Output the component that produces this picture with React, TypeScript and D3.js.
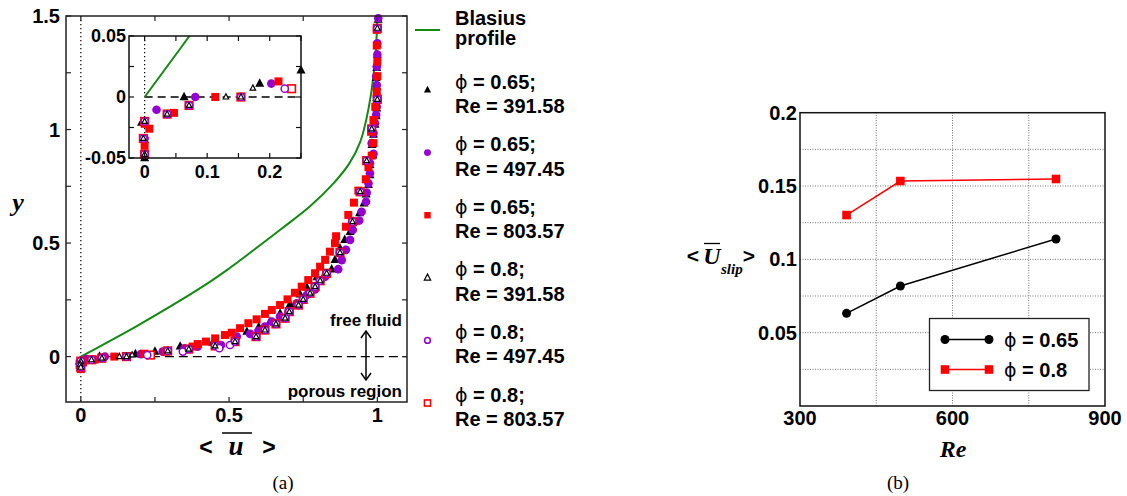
import React from 'react';
import * as d3 from 'd3';

type P = [number, number];

// ---------- Panel (a) data ----------
const blasius: P[] = [
  [0, 0], [0.1, 0.07], [0.19, 0.135], [0.413, 0.31], [0.5, 0.388], [0.582, 0.468],
  [0.68, 0.566], [0.773, 0.662], [0.852, 0.763], [0.905, 0.85], [0.942, 0.945],
  [0.962, 1.04], [0.978, 1.15], [0.991, 1.29], [0.998, 1.42], [1.0, 1.5],
];

// phi = 0.65, Re = 391.58 (filled triangles)
const s065Re391: P[] = [
  [-0.005, -0.021], [0, -0.035], [0, -0.05], [0.063, 0], [0.184, 0.011], [0.25, 0.022],
  [0.335, 0.045], [0.445, 0.062], [0.52, 0.085], [0.56, 0.11], [0.6, 0.13], [0.638, 0.154],
  [0.672, 0.19], [0.706, 0.232], [0.739, 0.275], [0.762, 0.305], [0.796, 0.35], [0.846, 0.385],
  [0.857, 0.426], [0.874, 0.477], [0.89, 0.515], [0.908, 0.55], [0.92, 0.595], [0.94, 0.632],
  [0.955, 0.675], [0.962, 0.715], [0.97, 0.757], [0.975, 0.8], [0.975, 0.845], [0.985, 0.887],
  [0.982, 0.933], [0.987, 0.978], [0.992, 1.022], [0.996, 1.06], [0.998, 1.094], [0.998, 1.14],
  [0.998, 1.19], [0.996, 1.228], [0.998, 1.272], [1.0, 1.33], [1.0, 1.375], [1.003, 1.485],
];

// phi = 0.65, Re = 497.45 (filled circles)
const s065Re497: P[] = [
  [0, -0.034], [0.019, -0.0104], [0.081, 0], [0.2025, 0.011], [0.276, 0.022], [0.349, 0.036],
  [0.394, 0.044], [0.473, 0.051], [0.526, 0.088], [0.571, 0.1], [0.599, 0.114], [0.621, 0.132],
  [0.644, 0.154], [0.672, 0.176], [0.7, 0.198], [0.728, 0.235], [0.762, 0.271], [0.79, 0.296],
  [0.824, 0.352], [0.868, 0.385], [0.88, 0.425], [0.894, 0.47], [0.908, 0.514], [0.917, 0.558],
  [0.939, 0.599], [0.947, 0.638], [0.962, 0.682], [0.964, 0.722], [0.97, 0.763], [0.975, 0.807],
  [0.975, 0.852], [0.987, 0.893], [0.981, 0.94], [0.987, 0.984], [0.992, 1.028], [0.996, 1.065],
  [0.998, 1.1], [0.998, 1.145], [0.998, 1.196], [0.996, 1.233], [0.998, 1.277], [1.0, 1.33],
  [1.0, 1.38], [1.003, 1.49],
];

// phi = 0.65, Re = 803.57 (filled squares)
const s065Re803: P[] = [
  [0, -0.022], [0.0075, -0.026], [0, -0.04], [0, -0.055], [0.047, -0.013], [0.113, 0],
  [0.214, 0.0128], [0.287, 0.022], [0.377, 0.044], [0.394, 0.055], [0.422, 0.066], [0.453, 0.08],
  [0.486, 0.095], [0.509, 0.105], [0.537, 0.125], [0.565, 0.147], [0.593, 0.164], [0.621, 0.188],
  [0.644, 0.205], [0.672, 0.227], [0.697, 0.252], [0.722, 0.281], [0.745, 0.308], [0.767, 0.337],
  [0.79, 0.367], [0.807, 0.396], [0.824, 0.426], [0.84, 0.462], [0.857, 0.499], [0.861, 0.53],
  [0.894, 0.572], [0.902, 0.624], [0.921, 0.678], [0.936, 0.731], [0.961, 0.781], [0.97, 0.834],
  [0.981, 0.885], [0.987, 0.94], [0.979, 0.99], [0.987, 1.042], [0.993, 1.1], [0.998, 1.167],
  [1.0, 1.235], [1.0, 1.299], [0.998, 1.37], [0.998, 1.439],
];

// phi = 0.8, Re = 391.58 (open triangles)
const s08Re391: P[] = [
  [0, -0.02], [-0.002, -0.034], [0, -0.047], [0.036, -0.014], [0.071, -0.0069], [0.13, 0],
  [0.154, 0], [0.173, 0.0073], [0.293, 0.025], [0.364, 0.033], [0.453, 0.047], [0.52, 0.066],
  [0.591, 0.088], [0.621, 0.117], [0.658, 0.144], [0.689, 0.169], [0.703, 0.198], [0.734, 0.227],
  [0.75, 0.252], [0.773, 0.279], [0.79, 0.308], [0.807, 0.334], [0.829, 0.367], [0.874, 0.458],
  [0.916, 0.594], [0.942, 0.726], [0.964, 0.863], [0.981, 1.003], [1.0, 1.133], [1.0, 1.446],
];

// phi = 0.8, Re = 497.45 (open circles)
const s08Re497: P[] = [
  [0, -0.02], [-0.002, -0.034], [0, -0.047], [0.036, -0.014], [0.071, -0.0069], [0.154, 0],
  [0.224, 0.0068], [0.293, 0.025], [0.344, 0.022], [0.364, 0.033], [0.453, 0.047], [0.467, 0.037],
  [0.503, 0.051], [0.52, 0.066], [0.591, 0.088], [0.621, 0.117], [0.658, 0.144], [0.689, 0.169],
  [0.703, 0.198], [0.734, 0.227], [0.75, 0.252], [0.773, 0.279], [0.79, 0.308], [0.807, 0.334],
  [0.829, 0.367], [0.874, 0.458], [0.916, 0.594], [0.942, 0.726], [0.964, 0.863], [0.981, 1.003],
  [1.0, 1.133], [1.0, 1.446],
];

// phi = 0.8, Re = 803.57 (open squares)
const s08Re803: P[] = [
  [0, -0.02], [-0.002, -0.034], [0, -0.047], [0.036, -0.014], [0.071, -0.0069], [0.154, 0],
  [0.235, 0.0068], [0.293, 0.025], [0.364, 0.033], [0.453, 0.047], [0.52, 0.066], [0.591, 0.088],
  [0.621, 0.117], [0.658, 0.144], [0.689, 0.169], [0.703, 0.198], [0.734, 0.227], [0.75, 0.252],
  [0.773, 0.279], [0.79, 0.308], [0.807, 0.334], [0.829, 0.367], [0.874, 0.458], [0.916, 0.594],
  [0.942, 0.726], [0.964, 0.863], [0.981, 1.003], [1.0, 1.133], [1.0, 1.446],
];

const mainXTickLabels = [0, 0.5, 1];
const mainXTicksAll = [0, 0.25, 0.5, 0.75, 1];
const mainYTickLabels = [0, 0.5, 1, 1.5];
const mainYTicksAll = [0, 0.25, 0.5, 0.75, 1, 1.25, 1.5];
const insetXTickLabels = [0, 0.1, 0.2];
const insetXTicksAll = [0, 0.05, 0.1, 0.15, 0.2, 0.25];
const insetYTickLabels = [-0.05, 0, 0.05];
const insetYTicksAll = [-0.05, -0.025, 0, 0.025, 0.05];

const legendA = [
  { phi: '0.65', re: '391.58', kind: 'triF' },
  { phi: '0.65', re: '497.45', kind: 'cirF' },
  { phi: '0.65', re: '803.57', kind: 'sqF' },
  { phi: '0.8', re: '391.58', kind: 'triO' },
  { phi: '0.8', re: '497.45', kind: 'cirO' },
  { phi: '0.8', re: '803.57', kind: 'sqO' },
];

// ---------- Panel (b) data ----------
const reValues = [391.58, 497.45, 803.57];
const slipPhi065 = [0.0632, 0.0818, 0.1139];
const slipPhi08 = [0.1302, 0.1534, 0.1548];
const bXTickLabels = [300, 600, 900];
const bXGrid = [450, 600, 750];
const bYTickLabels = [0.05, 0.1, 0.15, 0.2];
const bYGrid = [0.025, 0.05, 0.075, 0.1, 0.125, 0.15, 0.175];

const PURPLE = '#9400d3';
const RED = '#ff0000';
const GREEN = '#138a13';
const SANS = '"Liberation Sans", Arial, Helvetica, sans-serif';
const SERIF = '"Liberation Serif", "Times New Roman", serif';

const triPath = (cx: number, cy: number, s: number) =>
  `M${cx},${cy - s * 0.58}L${cx + s / 2},${cy + s * 0.36}L${cx - s / 2},${cy + s * 0.36}Z`;

function Marker({ kind, x, y, scale = 1 }: { kind: string; x: number; y: number; scale?: number }) {
  switch (kind) {
    case 'triF':
      return <path d={triPath(x, y, 9 * scale)} fill="#000" />;
    case 'cirF':
      return <circle cx={x} cy={y} r={4.3 * scale} fill={PURPLE} />;
    case 'sqF':
      return <rect x={x - 4 * scale} y={y - 4 * scale} width={8 * scale} height={8 * scale} fill={RED} />;
    case 'triO':
      return <path d={triPath(x, y, 5.5 * scale)} fill="#fff" stroke="#000" strokeWidth={1.2} />;
    case 'cirO':
      return <circle cx={x} cy={y} r={3.6 * scale} fill="#fff" stroke={PURPLE} strokeWidth={1.5} />;
    case 'sqO':
      return (
        <rect x={x - 3.8 * scale} y={y - 3.8 * scale} width={7.6 * scale} height={7.6 * scale}
          fill="#fff" stroke={RED} strokeWidth={1.6} />
      );
    default:
      return null;
  }
}

const seriesList: { data: P[]; kind: string }[] = [
  { data: s065Re391, kind: 'triF' },
  { data: s065Re497, kind: 'cirF' },
  { data: s065Re803, kind: 'sqF' },
  { data: s08Re803, kind: 'sqO' },
  { data: s08Re497, kind: 'cirO' },
  { data: s08Re391, kind: 'triO' },
];

export default function App() {
  const xM = d3.scaleLinear().domain([-0.05, 1.1]).range([66, 407]);
  const yM = d3.scaleLinear().domain([-0.2, 1.5]).range([402, 16]);
  const xI = d3.scaleLinear().domain([-0.025, 0.25]).range([129, 301]);
  const yI = d3.scaleLinear().domain([-0.05, 0.05]).range([158, 36]);
  const xB = d3.scaleLinear().domain([300, 900]).range([800, 1105]);
  const yB = d3.scaleLinear().domain([0, 0.2]).range([406, 112.7]);

  const lineM = d3.line<P>().x((d) => xM(d[0])).y((d) => yM(d[1])).curve(d3.curveCatmullRom.alpha(0.5));
  const lineI = d3.line<P>().x((d) => xI(d[0])).y((d) => yI(d[1])).curve(d3.curveCatmullRom.alpha(0.5));

  const lineB = d3.line<[number, number]>().x((d) => xB(d[0])).y((d) => yB(d[1]));
  const b065: [number, number][] = reValues.map((r, i) => [r, slipPhi065[i]]);
  const b08: [number, number][] = reValues.map((r, i) => [r, slipPhi08[i]]);

  const inInset = (d: P) => d[0] >= -0.03 && d[0] <= 0.252 && d[1] >= -0.052 && d[1] <= 0.052;

  const [mx0, mx1] = xM.range();
  const [my0, my1] = yM.range();
  const [ix0, ix1] = xI.range();
  const [iy0, iy1] = yI.range();

  return (
    <svg width={1127} height={496} style={{ position: 'absolute', left: 0, top: 0, background: '#fff' }}
      fontFamily={SANS}>
      <defs>
        <clipPath id="clipMain">
          <rect x={mx0} y={my1} width={mx1 - mx0} height={my0 - my1} />
        </clipPath>
        <clipPath id="clipInset">
          <rect x={ix0} y={iy1} width={ix1 - ix0} height={iy0 - iy1} />
        </clipPath>
      </defs>
      <rect x={0} y={0} width={1127} height={496} fill="#fff" />

      {/* ===== Panel (a) main ===== */}
      <line x1={xM(0)} x2={xM(0)} y1={my1} y2={my0} stroke="#000" strokeWidth={1.2} strokeDasharray="1.2,2.8" />
      <line x1={xM(0)} x2={mx1} y1={yM(0)} y2={yM(0)} stroke="#000" strokeWidth={1.3} strokeDasharray="9,5" />
      <path d={lineM(blasius) || ''} fill="none" stroke={GREEN} strokeWidth={2} clipPath="url(#clipMain)" />
      {seriesList.map((s, si) => (
        <g key={si}>
          {s.data.map((d, i) => (
            <Marker key={i} kind={s.kind} x={xM(d[0])} y={yM(d[1])} />
          ))}
        </g>
      ))}

      <rect x={mx0} y={my1} width={mx1 - mx0} height={my0 - my1} fill="none" stroke="#222" strokeWidth={1.5} />
      {mainXTicksAll.map((t) => (
        <g key={'mxt' + t}>
          <line x1={xM(t)} x2={xM(t)} y1={my0} y2={my0 - 5} stroke="#222" strokeWidth={1.2} />
          <line x1={xM(t)} x2={xM(t)} y1={my1} y2={my1 + 5} stroke="#222" strokeWidth={1.2} />
        </g>
      ))}
      {mainYTicksAll.map((t) => (
        <g key={'myt' + t}>
          <line x1={mx0} x2={mx0 + 5} y1={yM(t)} y2={yM(t)} stroke="#222" strokeWidth={1.2} />
          <line x1={mx1} x2={mx1 - 5} y1={yM(t)} y2={yM(t)} stroke="#222" strokeWidth={1.2} />
        </g>
      ))}
      {mainXTickLabels.map((t) => (
        <text key={'mxl' + t} x={xM(t)} y={422} textAnchor="middle" fontSize={20} fontWeight="bold">
          {String(t)}
        </text>
      ))}
      {mainYTickLabels.map((t) => (
        <text key={'myl' + t} x={60} y={yM(t) + 7} textAnchor="end" fontSize={20} fontWeight="bold">
          {String(t)}
        </text>
      ))}

      {/* axis titles (a) */}
      <text x={18} y={211} textAnchor="middle" fontFamily={SERIF} fontStyle="italic" fontWeight="bold" fontSize={26}>y</text>
      <text x={206} y={455} textAnchor="middle" fontSize={23} fontWeight="bold">&lt;</text>
      <text x={236} y={455} textAnchor="middle" fontFamily={SERIF} fontStyle="italic" fontWeight="bold" fontSize={27}>u</text>
      <line x1={222} x2={252} y1={433} y2={433} stroke="#000" strokeWidth={1.5} />
      <text x={269} y={455} textAnchor="middle" fontSize={23} fontWeight="bold">&gt;</text>

      {/* region annotation */}
      <text x={366} y={326} textAnchor="middle" fontSize={17} fontWeight="bold">free fluid</text>
      <text x={402} y={397} textAnchor="end" fontSize={17} fontWeight="bold">porous region</text>
      <line x1={366} x2={366} y1={331} y2={380} stroke="#000" strokeWidth={1.5} />
      <path d="M361,338 L366,331 L371,338" fill="none" stroke="#000" strokeWidth={1.5} />
      <path d="M361,373 L366,380 L371,373" fill="none" stroke="#000" strokeWidth={1.5} />

      {/* ===== Inset ===== */}
      <rect x={ix0} y={iy1} width={ix1 - ix0} height={iy0 - iy1} fill="#fff" />
      <line x1={xI(0)} x2={xI(0)} y1={iy1} y2={iy0} stroke="#000" strokeWidth={1.2} strokeDasharray="1.2,2.8" />
      <line x1={xI(0)} x2={ix1} y1={yI(0)} y2={yI(0)} stroke="#000" strokeWidth={1.3} strokeDasharray="8,5" />
      <path d={lineI(blasius) || ''} fill="none" stroke={GREEN} strokeWidth={2} clipPath="url(#clipInset)" />
      {seriesList.map((s, si) => (
        <g key={'in' + si}>
          {s.data.filter(inInset).map((d, i) => (
            <Marker key={i} kind={s.kind} x={xI(d[0])} y={yI(d[1])} />
          ))}
        </g>
      ))}
      <rect x={ix0} y={iy1} width={ix1 - ix0} height={iy0 - iy1} fill="none" stroke="#111" strokeWidth={1.5} />
      {insetXTicksAll.map((t) => (
        <g key={'ixt' + t}>
          <line x1={xI(t)} x2={xI(t)} y1={iy0} y2={iy0 - 5} stroke="#111" strokeWidth={1.2} />
          <line x1={xI(t)} x2={xI(t)} y1={iy1} y2={iy1 + 5} stroke="#111" strokeWidth={1.2} />
        </g>
      ))}
      {insetYTicksAll.map((t) => (
        <g key={'iyt' + t}>
          <line x1={ix0} x2={ix0 + 5} y1={yI(t)} y2={yI(t)} stroke="#111" strokeWidth={1.2} />
          <line x1={ix1} x2={ix1 - 5} y1={yI(t)} y2={yI(t)} stroke="#111" strokeWidth={1.2} />
        </g>
      ))}
      {insetXTickLabels.map((t) => (
        <text key={'ixl' + t} x={xI(t)} y={178} textAnchor="middle" fontSize={18} fontWeight="bold">
          {String(t)}
        </text>
      ))}
      {insetYTickLabels.map((t) => (
        <text key={'iyl' + t} x={126} y={yI(t) + 6} textAnchor="end" fontSize={18} fontWeight="bold">
          {String(t)}
        </text>
      ))}

      {/* ===== Legend (a) ===== */}
      <line x1={415} x2={440} y1={30} y2={30} stroke={GREEN} strokeWidth={2} />
      <text x={455} y={25} fontSize={20} fontWeight="bold">Blasius</text>
      <text x={455} y={45} fontSize={20} fontWeight="bold">profile</text>
      {legendA.map((e, i) => {
        const cy = 90 + i * 62.6;
        return (
          <g key={'lg' + i}>
            <Marker kind={e.kind} x={427.5} y={cy} scale={e.kind === 'triO' ? 1.15 : 0.8} />
            <text x={455} y={cy - 1.5} fontSize={20} fontWeight="bold">
              <tspan fontFamily='"DejaVu Sans", sans-serif' fontWeight="normal" fontSize={19}>ϕ</tspan>
              <tspan> = {e.phi};</tspan>
            </text>
            <text x={455} y={cy + 23} fontSize={20} fontWeight="bold">Re = {e.re}</text>
          </g>
        );
      })}

      <text x={283} y={489} textAnchor="middle" fontFamily={SERIF} fontSize={19}>(a)</text>

      {/* ===== Panel (b) ===== */}
      {bXGrid.map((g) => (
        <line key={'bgx' + g} x1={xB(g)} x2={xB(g)} y1={yB(0)} y2={yB(0.2)} stroke="#777" strokeWidth={1} strokeDasharray="1,1.5" />
      ))}
      {bYGrid.map((g) => (
        <line key={'bgy' + g} x1={xB(300)} x2={xB(900)} y1={yB(g)} y2={yB(g)} stroke="#777" strokeWidth={1} strokeDasharray="1,1.5" />
      ))}
      <path d={lineB(b065) || ''} fill="none" stroke="#000" strokeWidth={1.5} />
      <path d={lineB(b08) || ''} fill="none" stroke={RED} strokeWidth={1.5} />
      {b065.map((d, i) => (
        <circle key={'bc' + i} cx={xB(d[0])} cy={yB(d[1])} r={4.5} fill="#000" />
      ))}
      {b08.map((d, i) => (
        <rect key={'bs' + i} x={xB(d[0]) - 4.3} y={yB(d[1]) - 4.3} width={8.6} height={8.6} fill={RED} />
      ))}
      <rect x={xB(300)} y={yB(0.2)} width={xB(900) - xB(300)} height={yB(0) - yB(0.2)} fill="none" stroke="#111" strokeWidth={1.5} />
      {bXTickLabels.map((t) => (
        <text key={'bxl' + t} x={xB(t)} y={425} textAnchor="middle" fontSize={20} fontWeight="bold">{t}</text>
      ))}
      {bYTickLabels.map((t) => (
        <text key={'byl' + t} x={797} y={yB(t) + 7} textAnchor="end" fontSize={20} fontWeight="bold">{String(t)}</text>
      ))}

      {/* legend (b) */}
      <rect x={929.5} y={318.5} width={159.5} height={72} fill="#fff" stroke="#222" strokeWidth={1.3} />
      <line x1={945} x2={989} y1={339.5} y2={339.5} stroke="#000" strokeWidth={1.5} />
      <circle cx={945} cy={339.5} r={4.5} fill="#000" />
      <circle cx={989} cy={339.5} r={4.5} fill="#000" />
      <text x={1004} y={347} fontSize={20} fontWeight="bold">
        <tspan fontFamily='"DejaVu Sans", sans-serif' fontWeight="normal" fontSize={19}>ϕ</tspan>
        <tspan> = 0.65</tspan>
      </text>
      <line x1={945} x2={989} y1={369.5} y2={369.5} stroke={RED} strokeWidth={1.5} />
      <rect x={940.7} y={365.2} width={8.6} height={8.6} fill={RED} />
      <rect x={984.7} y={365.2} width={8.6} height={8.6} fill={RED} />
      <text x={1004} y={377} fontSize={20} fontWeight="bold">
        <tspan fontFamily='"DejaVu Sans", sans-serif' fontWeight="normal" fontSize={19}>ϕ</tspan>
        <tspan> = 0.8</tspan>
      </text>

      {/* axis titles (b) */}
      <text x={953} y={457} textAnchor="middle" fontFamily={SERIF} fontStyle="italic" fontWeight="bold" fontSize={24}>Re</text>
      <text x={693} y={263} textAnchor="middle" fontSize={21} fontWeight="bold">&lt;</text>
      <text x={712} y={264} textAnchor="middle" fontFamily={SERIF} fontStyle="italic" fontWeight="bold" fontSize={24}>U</text>
      <line x1={704} x2={720} y1={243.5} y2={243.5} stroke="#000" strokeWidth={1.3} />
      <text x={721} y={274} textAnchor="start" fontFamily={SERIF} fontStyle="italic" fontWeight="bold" fontSize={15}>slip</text>
      <text x={749} y={263} textAnchor="middle" fontSize={21} fontWeight="bold">&gt;</text>

      <text x={898} y={489} textAnchor="middle" fontFamily={SERIF} fontSize={19}>(b)</text>
    </svg>
  );
}
